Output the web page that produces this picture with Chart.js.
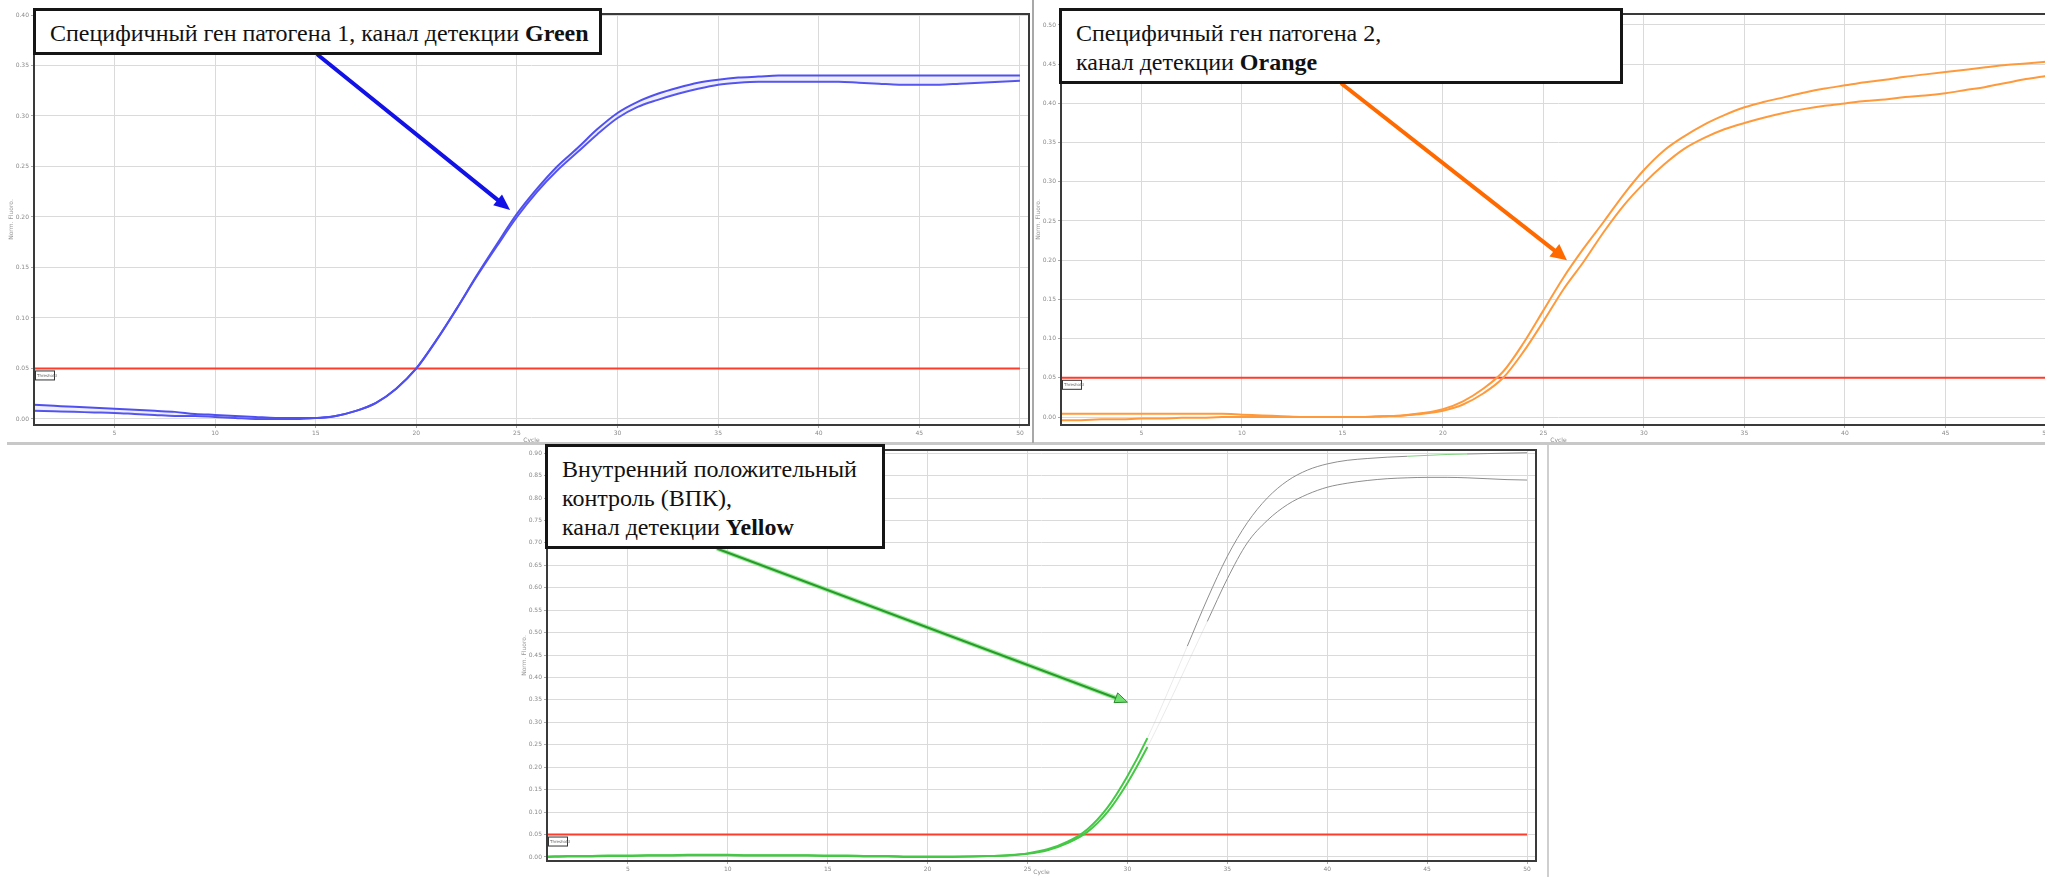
<!DOCTYPE html>
<html>
<head>
<meta charset="utf-8">
<title>Кривые амплификации</title>
<script src="https://cdn.jsdelivr.net/npm/chart.js@4.4.1/dist/chart.umd.min.js"></script>
<style>
  html, body { margin: 0; padding: 0; background: #fff; }
  body { width: 2045px; height: 877px; position: relative; overflow: hidden; }
  canvas { position: absolute; }
  .note {
    position: absolute; box-sizing: border-box; background: #fff;
    border: 3px solid #151515; color: #111;
    font-family: "Liberation Serif", "Times New Roman", serif;
    font-size: 24px; line-height: 29px; padding: 8px 0 0 14px; white-space: nowrap;
  }
  .note b { font-weight: bold; }
  .sep { position: absolute; }
</style>
</head>
<body>
<canvas id="chartGreen" width="1040" height="445" style="left:0;top:0"></canvas>
<canvas id="chartOrange" width="1030" height="445" style="left:1030px;top:0"></canvas>
<canvas id="chartYellow" width="1040" height="434" style="left:505px;top:443px"></canvas>

<div class="sep" style="left:7px;top:442px;width:2038px;height:3px;background:#c8c8c8"></div>
<div class="sep" style="left:1032px;top:0;width:2px;height:443px;background:#a8a8a8"></div>
<div class="sep" style="left:1547px;top:445px;width:2px;height:432px;background:#cfcfcf"></div>

<div class="note" style="left:33px;top:8px;width:569px;height:47px">Специфичный ген патогена 1, канал детекции <b>Green</b></div>
<div class="note" style="left:1059px;top:8px;width:564px;height:76px">Специфичный ген патогена 2,<br>канал детекции <b>Orange</b></div>
<div class="note" style="left:545px;top:444px;width:340px;height:105px">Внутренний положительный<br>контроль (ВПК),<br>канал детекции <b>Yellow</b></div>

<script>
// Cycle numbers shared by all three runs
const cycles = [1,2,3,4,5,6,7,8,9,10,11,12,13,14,15,16,17,18,19,20,21,22,23,24,25,
                26,27,28,29,30,31,32,33,34,35,36,37,38,39,40,41,42,43,44,45,46,47,48,49,50];
const cycleTicks = [5,10,15,20,25,30,35,40,45,50];
const threshold = 0.05;

// Green channel: pathogen gene 1, two replicates
const greenRep1 = [0.014,0.013,0.012,0.011,0.010,0.009,0.008,0.007,0.005,0.004,
                   0.003,0.002,0.001,0.001,0.001,0.003,0.008,0.016,0.030,0.050,
                   0.078,0.109,0.142,0.173,0.203,0.228,0.250,0.268,0.287,0.303,
                   0.314,0.322,0.328,0.333,0.336,0.338,0.339,0.340,0.340,0.340,
                   0.340,0.340,0.340,0.340,0.340,0.340,0.340,0.340,0.340,0.340];
const greenRep2 = [0.008,0.0075,0.007,0.0065,0.006,0.005,0.004,0.003,0.003,0.002,
                   0.001,0.000,0.000,0.000,0.001,0.003,0.008,0.016,0.030,0.050,
                   0.078,0.109,0.141,0.171,0.200,0.225,0.246,0.264,0.282,0.298,
                   0.309,0.316,0.322,0.327,0.331,0.333,0.334,0.334,0.334,0.334,
                   0.334,0.333,0.332,0.331,0.331,0.331,0.332,0.333,0.334,0.335];
const greenYTicks = [0.00,0.05,0.10,0.15,0.20,0.25,0.30,0.35,0.40];

// Orange channel: pathogen gene 2, two replicates
const orangeRep1 = [0.004,0.004,0.004,0.004,0.004,0.004,0.004,0.004,0.004,0.003,
                    0.002,0.001,0.000,0.000,0.000,0.000,0.001,0.002,0.005,0.010,
                    0.020,0.036,0.058,0.094,0.136,0.178,0.215,0.249,0.284,0.315,
                    0.340,0.358,0.373,0.385,0.395,0.402,0.408,0.414,0.419,0.423,
                    0.427,0.430,0.434,0.437,0.440,0.443,0.446,0.449,0.451,0.453];
const orangeRep2 = [-0.004,-0.004,-0.003,-0.003,-0.002,-0.002,-0.001,-0.001,0.000,0.000,
                    0.000,0.000,0.000,0.000,0.000,0.000,0.001,0.002,0.004,0.008,
                    0.016,0.030,0.050,0.083,0.122,0.163,0.198,0.236,0.270,0.298,
                    0.322,0.342,0.356,0.367,0.375,0.382,0.388,0.393,0.397,0.400,
                    0.403,0.405,0.408,0.410,0.413,0.417,0.421,0.426,0.431,0.435];
const orangeYTicks = [0.00,0.05,0.10,0.15,0.20,0.25,0.30,0.35,0.40,0.45,0.50];

// Yellow channel: internal positive control, two replicates
const yellowRep1 = [0.001,0.002,0.002,0.003,0.003,0.004,0.004,0.005,0.005,0.005,
                    0.004,0.004,0.004,0.004,0.003,0.003,0.002,0.002,0.001,0.001,
                    0.001,0.001,0.002,0.004,0.008,0.017,0.034,0.062,0.110,0.180,
                    0.265,0.365,0.470,0.575,0.670,0.745,0.800,0.838,0.862,0.876,
                    0.884,0.888,0.891,0.893,0.895,0.897,0.898,0.899,0.900,0.901];
const yellowRep2 = [0.000,0.001,0.001,0.002,0.002,0.003,0.003,0.004,0.004,0.004,
                    0.003,0.003,0.003,0.003,0.002,0.002,0.001,0.001,0.000,0.000,
                    0.000,0.001,0.002,0.003,0.007,0.015,0.031,0.056,0.100,0.165,
                    0.245,0.335,0.430,0.525,0.620,0.700,0.750,0.785,0.808,0.824,
                    0.833,0.839,0.843,0.845,0.846,0.846,0.845,0.843,0.841,0.840];
const yellowYTicks = [0.00,0.05,0.10,0.15,0.20,0.25,0.30,0.35,0.40,0.45,
                      0.50,0.55,0.60,0.65,0.70,0.75,0.80,0.85,0.90];

const pts = arr => cycles.map((c, i) => ({ x: c, y: arr[i] }));
const thresholdLine = (x0, x1) => ({
  data: [{ x: x0, y: threshold }, { x: x1, y: threshold }],
  borderColor: '#ff3b2b', borderWidth: 2, pointRadius: 0, fill: false, order: 5
});

// Plot frame, threshold tag and the callout arrow
const decorPlugin = {
  id: 'decor',
  afterDatasetsDraw(chart, args, opts) {
    const { ctx, chartArea: a, scales: { x, y } } = chart;
    ctx.save();
    ctx.strokeStyle = '#3a3a3a';
    ctx.lineWidth = 2;
    ctx.strokeRect(a.left, a.top, a.right - a.left, a.bottom - a.top);

    const ty = y.getPixelForValue(threshold);
    ctx.fillStyle = '#fff';
    ctx.fillRect(a.left + 1, ty + 2, 19, 9);
    ctx.lineWidth = 1;
    ctx.strokeStyle = '#333';
    ctx.strokeRect(a.left + 1.5, ty + 2.5, 19, 9);
    ctx.fillStyle = '#666';
    ctx.font = '4px "DejaVu Sans"';
    ctx.fillText('Threshold', a.left + 3, ty + 8.5);

    const ar = opts.arrow;
    const tx = x.getPixelForValue(ar.cycle);
    const tyy = y.getPixelForValue(ar.value);
    const [sx, sy] = ar.from;
    const ang = Math.atan2(tyy - sy, tx - sx);
    const bx = tx - Math.cos(ang) * ar.head;
    const by = tyy - Math.sin(ang) * ar.head;
    ctx.lineCap = 'round';
    if (ar.halo) {
      ctx.strokeStyle = ar.halo;
      ctx.lineWidth = ar.width + 2.5;
      ctx.beginPath(); ctx.moveTo(sx, sy); ctx.lineTo(bx, by); ctx.stroke();
    }
    ctx.strokeStyle = ar.color;
    ctx.lineWidth = ar.width;
    ctx.beginPath(); ctx.moveTo(sx, sy); ctx.lineTo(bx, by); ctx.stroke();
    const nx = -Math.sin(ang) * ar.half, ny = Math.cos(ang) * ar.half;
    ctx.beginPath();
    ctx.moveTo(tx, tyy);
    ctx.lineTo(bx + nx, by + ny);
    ctx.lineTo(bx - nx, by - ny);
    ctx.closePath();
    ctx.fillStyle = ar.headFill || ar.color;
    ctx.fill();
    if (ar.headStroke) { ctx.strokeStyle = ar.headStroke; ctx.lineWidth = 1; ctx.stroke(); }
    ctx.restore();
  }
};

function makeChart(id, c) {
  const tickFont = { size: 6, family: '"DejaVu Sans"' };
  return new Chart(document.getElementById(id), {
    type: 'line',
    data: { datasets: c.datasets },
    options: {
      responsive: false,
      animation: false,
      devicePixelRatio: 1,
      layout: { padding: c.pad },
      elements: { point: { radius: 0 }, line: { cubicInterpolationMode: 'monotone' } },
      plugins: { legend: { display: false }, tooltip: { enabled: false }, decor: c.decor },
      scales: {
        x: {
          type: 'linear', min: c.xMin, max: c.xMax,
          afterBuildTicks: s => { s.ticks = cycleTicks.map(v => ({ value: v })); },
          afterFit: s => { s.height = c.xH; },
          border: { display: false },
          grid: { color: '#dadada', lineWidth: 1, tickLength: 3, tickColor: '#aaa' },
          ticks: { font: tickFont, color: '#8a8a8a', padding: 2, maxRotation: 0, autoSkip: false,
                   callback: v => String(v) },
          title: { display: true, text: 'Cycle', font: tickFont, color: '#8a8a8a',
                   padding: { top: 0, bottom: 1 } }
        },
        y: {
          type: 'linear', min: c.yMin, max: c.yMax,
          afterBuildTicks: s => { s.ticks = c.yTicks.map(v => ({ value: v })); },
          afterFit: s => { s.width = c.yW; },
          border: { display: false },
          grid: { color: '#dadada', lineWidth: 1, tickLength: 3, tickColor: '#aaa' },
          ticks: { font: tickFont, color: '#8a8a8a', padding: 2, autoSkip: false,
                   callback: v => v.toFixed(2) },
          title: { display: true, text: 'Norm. Fluoro.', font: tickFont, color: '#9a9a9a',
                   padding: { top: c.yTitlePad, bottom: 0 } }
        }
      }
    },
    plugins: [decorPlugin]
  });
}

// Green channel
makeChart('chartGreen', {
  pad: { left: 0, top: 14, right: 11, bottom: 0 },
  xMin: 1, xMax: 50.45, xH: 20,
  yMin: -0.006, yMax: 0.401, yW: 34, yTitlePad: 8, yTicks: greenYTicks,
  datasets: [
    { data: pts(greenRep1), borderColor: '#5050f0', borderWidth: 2, fill: '+1',
      backgroundColor: 'rgba(150,150,245,0.16)' },
    { data: pts(greenRep2), borderColor: '#5050f0', borderWidth: 2, fill: false },
    thresholdLine(1, 50)
  ],
  decor: { arrow: { from: [318, 55], cycle: 24.66, value: 0.207, color: '#1212e6',
                    width: 4, head: 16, half: 7 } }
});

// Orange channel
makeChart('chartOrange', {
  pad: { left: 0, top: 14, right: 4, bottom: 0 },
  xMin: 1, xMax: 50.5, xH: 20,
  yMin: -0.0102, yMax: 0.514, yW: 31, yTitlePad: 5, yTicks: orangeYTicks,
  datasets: [
    { data: pts(orangeRep1), borderColor: '#ff9a3c', borderWidth: 2, fill: false },
    { data: pts(orangeRep2), borderColor: '#ff9a3c', borderWidth: 2, fill: false },
    thresholdLine(1, 50.5)
  ],
  decor: { arrow: { from: [312, 84], cycle: 26.17, value: 0.200, color: '#ff6a00',
                    width: 4, head: 16, half: 8 } }
});

// Yellow channel: lower part of the curves stays green, the upper part is pale grey
const yellowSegment = (highlight) => ({
  borderColor: ctx => {
    const hi = Math.max(ctx.p0.parsed.y, ctx.p1.parsed.y);
    const lo = Math.min(ctx.p0.parsed.y, ctx.p1.parsed.y);
    if (hi <= 0.27) return '#45c845';
    if (lo < 0.45) return 'rgba(195,195,195,0.35)';
    if (highlight && ctx.p0.parsed.x >= 44 && ctx.p0.parsed.x < 47) return '#7fd27f';
    return '#8e8e8e';
  },
  borderWidth: ctx => (Math.max(ctx.p0.parsed.y, ctx.p1.parsed.y) <= 0.27 ? 2 : 1)
});

makeChart('chartYellow', {
  pad: { left: 0, top: 7, right: 9, bottom: 0 },
  xMin: 0.95, xMax: 50.45, xH: 16,
  yMin: -0.009, yMax: 0.907, yW: 42, yTitlePad: 16, yTicks: yellowYTicks,
  datasets: [
    { data: pts(yellowRep1), borderColor: '#45c845', borderWidth: 2, fill: false,
      segment: yellowSegment(true) },
    { data: pts(yellowRep2), borderColor: '#45c845', borderWidth: 2, fill: false,
      segment: yellowSegment(false) },
    thresholdLine(0.95, 50)
  ],
  decor: { arrow: { from: [213, 106], cycle: 29.98, value: 0.345, color: '#2a9a2a',
                    halo: 'rgba(110,230,110,0.7)', width: 2, head: 12, half: 5,
                    headFill: '#6ee06e', headStroke: '#2a8a2a' } }
});
</script>
</body>
</html>
